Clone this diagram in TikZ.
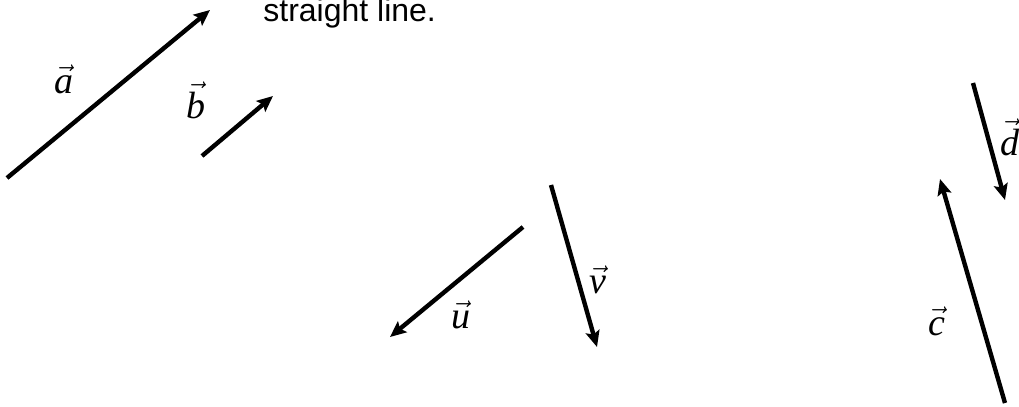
\documentclass[tikz,border=0pt]{standalone}
\usepackage{fontspec}
\setmainfont{Liberation Serif}
\newfontfamily\sansfont{Liberation Sans}
\usepackage{tikz}
\usetikzlibrary{positioning,arrows.meta}
\tikzset{
  vec/.style={-{Stealth[length=8pt,width=7pt,inset=1.5pt]}, line width=2.2pt, draw=black},
  vlbl/.style={anchor=base, inner sep=0pt, font=\fontsize{19}{22}\selectfont},
  note/.style={anchor=base west, inner sep=0pt, font=\sansfont\fontsize{16}{19}\selectfont},
}

\begin{document}
\begin{tikzpicture}[x=0.5pt,y=-0.5pt]
  \useasboundingbox (0,0) rectangle (1019,407);

  \node[note] (txt) at (263,21) {straight line.};

  % end points of the vectors
  \coordinate (a0) at (7,178);    \coordinate (a1) at (210,10);
  \coordinate (b0) at (202,156);  \coordinate (b1) at (273,96);
  \coordinate (u0) at (523,227);  \coordinate (u1) at (390,337);
  \coordinate (v0) at (551,185);  \coordinate (v1) at (597,347);
  \coordinate (c0) at (1005,403); \coordinate (c1) at (940,179);
  \coordinate (d0) at (973,83);   \coordinate (d1) at (1005,200);

  \draw[vec] (a0) -- (a1);
  \draw[vec] (b0) -- (b1);
  \draw[vec] (u0) -- (u1);
  \draw[vec] (v0) -- (v1);
  \draw[vec] (c0) -- (c1);
  \draw[vec] (d0) -- (d1);

  \node[vlbl] (la) at (64,93)   {$\vec{\textit{a}}$};
  \node[vlbl] (lb) at (196,118) {$\vec{\textit{b}}$};
  \node[vlbl] (lu) at (461,328) {$\vec{\textit{u}}$};
  \node[vlbl] (lv) at (598,293) {$\vec{\textit{v}}$};
  \node[vlbl] (lc) at (937,335) {$\vec{\textit{c}}$};
  \node[vlbl] (ld) at (1010,155) {$\vec{\textit{d}}$};
\end{tikzpicture}
\end{document}
